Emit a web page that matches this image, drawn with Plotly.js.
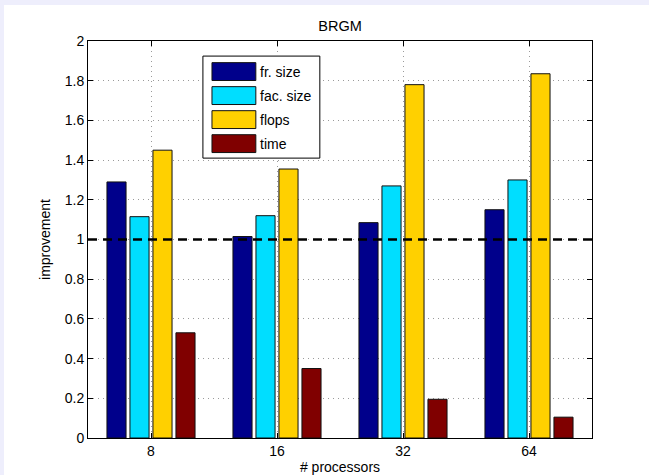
<!DOCTYPE html>
<html>
<head>
<meta charset="utf-8">
<script src="https://cdn.plot.ly/plotly-3.0.1.min.js"></script>
<style>
  html, body { margin: 0; padding: 0; background: #eeeefc; width: 649px; height: 475px; overflow: hidden; }
  #chart { position: absolute; left: 4px; top: 5px; width: 645px; height: 470px; background: #fff; }
</style>
</head>
<body>
<div id="chart"></div>
<script>
// Data
const processors = ['8', '16', '32', '64'];
const seriesNames = ['fr. size', 'fac. size', 'flops', 'time'];
const frSize   = [1.29, 1.015, 1.085, 1.15];
const facSize  = [1.115, 1.12, 1.27, 1.30];
const flops    = [1.45, 1.355, 1.78, 1.835];
const timeVals = [0.53, 0.35, 0.195, 0.105];
const seriesColors = ['#00008b', '#00deff', '#ffd000', '#800000'];
const yTicks = [0, 0.2, 0.4, 0.6, 0.8, 1, 1.2, 1.4, 1.6, 1.8, 2];
const referenceLevel = 1;

const allValues = [frSize, facSize, flops, timeVals];
const font = 'Liberation Sans, Arial, Helvetica, sans-serif';
const fs = 14;

const traces = allValues.map((vals, i) => ({
  type: 'bar',
  x: processors,
  y: vals,
  name: seriesNames[i],
  marker: { color: seriesColors[i], line: { color: '#111', width: 1 } },
  showlegend: false,
  hoverinfo: 'x+y+name'
}));

// Custom MATLAB-like legend (box with large swatches)
const shapes = [];
const annotations = [];
const legX0 = 0.228, legX1 = 0.460, legY0 = 0.705, legY1 = 0.962;
shapes.push({ type: 'rect', xref: 'paper', yref: 'paper', x0: legX0, x1: legX1, y0: legY0, y1: legY1,
  line: { color: '#000', width: 1 }, fillcolor: '#fff', layer: 'above' });
const rowTop = 0.923, rowStep = 0.0605, swH = 0.0225;
seriesNames.forEach((nm, i) => {
  const yc = rowTop - i * rowStep;
  shapes.push({ type: 'rect', xref: 'paper', yref: 'paper', x0: 0.246, x1: 0.333, y0: yc - swH, y1: yc + swH,
    line: { color: '#111', width: 1 }, fillcolor: seriesColors[i], layer: 'above' });
  annotations.push({ xref: 'paper', yref: 'paper', x: 0.337, y: yc, xanchor: 'left', yanchor: 'middle',
    text: nm, showarrow: false, font: { family: font, size: fs, color: '#000' } });
});

// Dashed reference line at improvement = 1
shapes.push({ type: 'line', xref: 'paper', yref: 'y', x0: 0, x1: 1, y0: referenceLevel, y1: referenceLevel,
  line: { color: '#000', width: 2.5, dash: '9px,6px' }, layer: 'above' });

const layout = {
  width: 645, height: 470,
  margin: { l: 84, r: 57, t: 36, b: 37 },
  paper_bgcolor: '#fff', plot_bgcolor: '#fff',
  font: { family: font, size: fs, color: '#000' },
  title: { text: 'BRGM', font: { family: font, size: 14.5, color: '#000' }, x: 0.5, xref: 'paper', y: 0.955, yanchor: 'middle' },
  barmode: 'group',
  bargap: 0.27,
  bargroupgap: 0.17,
  xaxis: {
    type: 'category',
    range: [-0.5, 3.5],
    showline: true, linecolor: '#000', linewidth: 1, mirror: 'allticks',
    ticks: 'inside', ticklen: 5, tickcolor: '#000',
    showgrid: true, gridcolor: '#9a9a9a', griddash: '1px,4px', gridwidth: 1,
    tickfont: { family: font, size: fs, color: '#000' },
    title: { text: '# processors', font: { family: font, size: fs, color: '#000' }, standoff: 5 },
    zeroline: false
  },
  yaxis: {
    range: [0, 2],
    tickvals: yTicks,
    ticktext: yTicks.map(v => String(v)),
    showline: true, linecolor: '#000', linewidth: 1, mirror: 'allticks',
    ticks: 'inside', ticklen: 5, tickcolor: '#000',
    showgrid: true, gridcolor: '#9a9a9a', griddash: '1px,4px', gridwidth: 1,
    tickfont: { family: font, size: fs, color: '#000' },
    title: { text: 'improvement', font: { family: font, size: fs, color: '#000' }, standoff: 10 },
    zeroline: false
  },
  shapes: shapes,
  annotations: annotations
};

Plotly.newPlot('chart', traces, layout, { displayModeBar: false, staticPlot: true });
</script>
</body>
</html>
